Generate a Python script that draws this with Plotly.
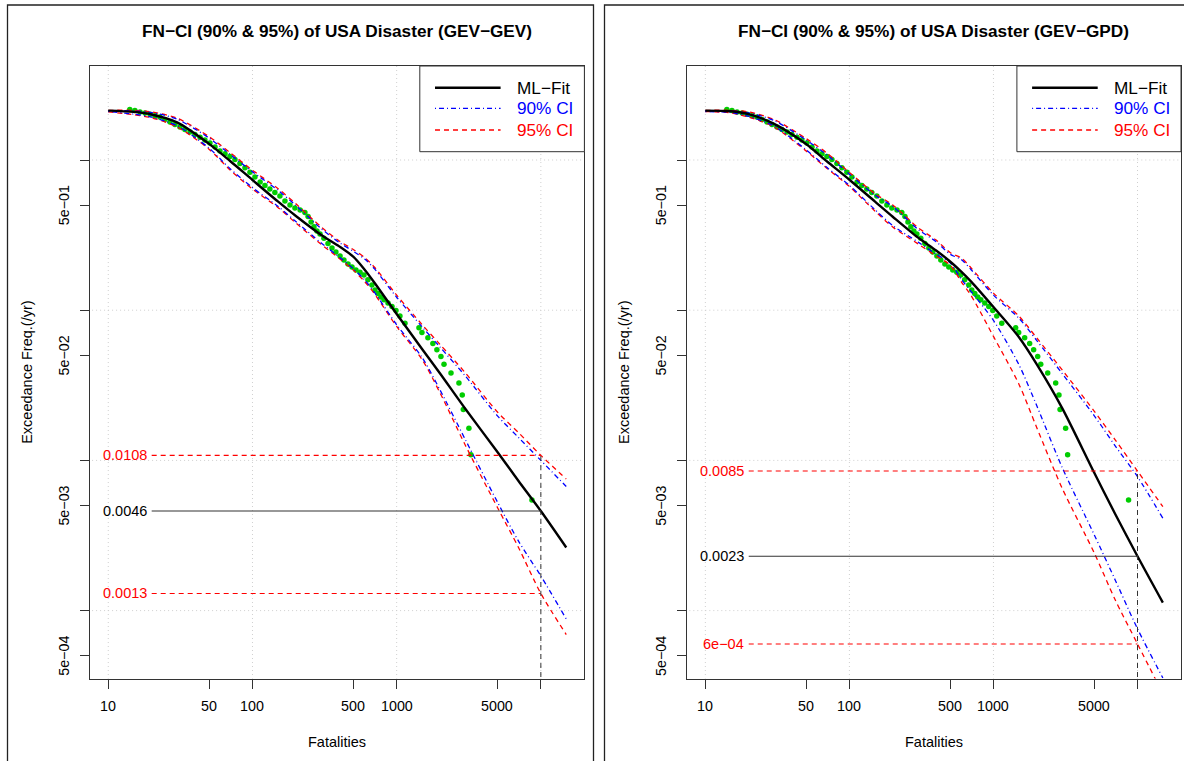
import numpy as np
import plotly.graph_objects as go

W, H = 1184, 761

# ---------------- data ----------------
fit_x = [10, 15, 20, 30, 50, 70, 100, 150, 200, 300, 400, 500, 600, 700,
         1000, 1500, 2000, 3000, 5000, 7000, 10000, 15000]

# GEV-GEV panel
gev_ml = [2.13, 2.09, 2.01, 1.78, 1.28, 0.985, 0.736, 0.530, 0.424, 0.317, 0.266, 0.227, 0.186, 0.153,
          0.0944, 0.0552, 0.0379, 0.0220, 0.01138, 0.00729, 0.0046, 0.00263]
gev_u95 = [2.14, 2.14, 2.09, 1.90, 1.43, 1.12, 0.855, 0.646, 0.511, 0.358, 0.289, 0.2535, 0.224, 0.194,
           0.126, 0.0803, 0.0591, 0.0382, 0.0210, 0.0153, 0.0108, 0.00752]
gev_u90 = [2.13, 2.12, 2.07, 1.87, 1.40, 1.09, 0.835, 0.630, 0.498, 0.349, 0.282, 0.247, 0.219, 0.189,
           0.122, 0.0775, 0.0568, 0.0364, 0.0198, 0.0142, 0.0100, 0.0067]
gev_l95 = [2.09, 2.00, 1.91, 1.66, 1.18, 0.858, 0.641, 0.483, 0.381, 0.274, 0.221, 0.185, 0.155, 0.129,
           0.0779, 0.0470, 0.0281, 0.01257, 0.00486, 0.00263, 0.0013, 0.000693]
gev_l90 = [2.10, 2.02, 1.93, 1.69, 1.20, 0.875, 0.655, 0.492, 0.389, 0.280, 0.226, 0.189, 0.159, 0.132,
           0.0800, 0.0485, 0.0294, 0.0137, 0.00528, 0.0029, 0.0017, 0.00088]

# GEV-GPD panel
gpd_ml = [2.13, 2.11, 2.02, 1.74, 1.278, 0.977, 0.739, 0.530, 0.419, 0.304, 0.250, 0.211, 0.180, 0.155,
          0.105, 0.0663, 0.0436, 0.0223, 0.00830, 0.00440, 0.0023, 0.00113]
gpd_u95 = [2.14, 2.14, 2.09, 1.86, 1.39, 1.11, 0.826, 0.598, 0.502, 0.354, 0.293, 0.242, 0.222, 0.191,
           0.130, 0.0915, 0.0653, 0.0400, 0.0213, 0.0137, 0.0085, 0.00492]
gpd_u90 = [2.13, 2.12, 2.06, 1.83, 1.36, 1.08, 0.805, 0.585, 0.490, 0.345, 0.286, 0.236, 0.217, 0.186,
           0.126, 0.0885, 0.0628, 0.0379, 0.0199, 0.0125, 0.00779, 0.00412]
gpd_l95 = [2.10, 2.06, 1.93, 1.66, 1.15, 0.878, 0.667, 0.458, 0.358, 0.276, 0.230, 0.200, 0.154, 0.125,
           0.0669, 0.0323, 0.0165, 0.00652, 0.00243, 0.00118, 0.0006, 0.00028]
gpd_l90 = [2.10, 2.07, 1.95, 1.68, 1.17, 0.890, 0.678, 0.468, 0.366, 0.284, 0.236, 0.207, 0.160, 0.133,
           0.0855, 0.0435, 0.0231, 0.00897, 0.00321, 0.0016, 0.000757, 0.000356]

# empirical exceedance frequencies (green points)
emp_x = [14.1, 15.3, 16.6, 18.0, 19.5, 21.1, 22.8, 24.7, 26.8, 29.0, 31.4, 34.0, 36.9, 39.9, 43.3,
         46.8, 50.7, 55.0, 59.5, 64.5, 69.8, 75.6, 81.9, 88.7, 96.1, 104, 113, 122, 132, 143,
         155, 168, 182, 197, 214, 231, 243, 255, 267, 280, 294, 313, 334, 356, 379, 405, 431,
         460, 490, 522, 557, 593, 632, 674, 707, 742, 778, 817, 871, 928, 989, 1054,
         1142, 1428, 1497, 1647, 1783, 1901, 2028, 2130, 2381, 2704, 2850, 2900, 3170, 3273, 8670]
emp_y = [2.169, 2.136, 2.087, 2.055, 2.015, 1.972, 1.933, 1.861, 1.791, 1.723, 1.659, 1.596, 1.536,
         1.478, 1.416, 1.357, 1.298, 1.221, 1.148, 1.101, 1.057, 1.006, 0.946, 0.887, 0.828, 0.770,
         0.714, 0.676, 0.641, 0.608, 0.576, 0.533, 0.502, 0.479, 0.465, 0.447, 0.420, 0.387, 0.359,
         0.337, 0.322, 0.301, 0.278, 0.2595, 0.244, 0.2295, 0.216, 0.203, 0.194, 0.185, 0.179,
         0.1715, 0.1596, 0.1472, 0.1363, 0.1292, 0.1224, 0.1176, 0.1117, 0.1060, 0.0997, 0.0915,
         0.0819, 0.0764, 0.0710, 0.0655, 0.0601, 0.0546, 0.0491, 0.0437, 0.0382, 0.0328, 0.0273,
         0.0218, 0.0164, 0.0109, 0.00546]

ref_x = [20, 10000]          # horizontal reference segments
ret_x = 10000                # return level position

panels = [
    dict(title="FN−CI (90% & 95%) of USA Disaster (GEV−GEV)",
         ml=gev_ml, u95=gev_u95, u90=gev_u90, l95=gev_l95, l90=gev_l90,
         ref_vals=[0.0108, 0.0046, 0.0013], ref_text=["0.0108", "0.0046", "0.0013"]),
    dict(title="FN−CI (90% & 95%) of USA Disaster (GEV−GPD)",
         ml=gpd_ml, u95=gpd_u95, u90=gpd_u90, l95=gpd_l95, l90=gpd_l90,
         ref_vals=[0.0085, 0.0023, 0.0006], ref_text=["0.0085", "0.0023", "6e−04"]),
]

x_ticks = [10, 50, 100, 500, 1000, 5000, 10000]
x_tick_text = ["10", "50", "100", "500", "1000", "5000", ""]
y_ticks = [1, 0.5, 0.1, 0.05, 0.01, 0.005, 0.001, 0.0005]
y_tick_text = ["", "5e−01", "", "5e−02", "", "5e−03", "", "5e−04"]
grid_x = [10, 100, 1000, 10000]
grid_y = [1, 0.1, 0.01, 0.001]

legend_names = ["ML−Fit", "90% CI", "95% CI"]

# ---------------- styling / layout ----------------
FONT = "Liberation Sans, Arial, Helvetica, sans-serif"
GREEN = "#00CD00"
RED = "#FF0000"
BLUE = "#0000FF"
DASH95 = "5px,4px"
DASH90 = "1px,3px,5px,3px"
XR = [0.8705, 4.302]
YR = [-3.452, 0.6258]

boxes = [(89.6, 66, 584.4, 678.5), (686.7, 66, 1181.0, 678.5)]
frames = [(7.5, 5, 593.5, 800), (604.5, 5, 1190.5, 800)]

fig = go.Figure()
annotations = []
shapes = []

for i, (p, box) in enumerate(zip(panels, boxes)):
    xa = "x" if i == 0 else "x2"
    ya = "y" if i == 0 else "y2"
    L, T, R, B = box

    def add(x, y, **kw):
        fig.add_trace(go.Scatter(x=x, y=y, xaxis=xa, yaxis=ya, showlegend=False,
                                 hoverinfo="skip", **kw))

    # grid
    for gx in grid_x:
        add([gx, gx], [1e-5, 100], mode="lines",
            line=dict(color="#cfcfcf", width=1, dash="1px,3px"))
    for gy in grid_y:
        add([1, 1e6], [gy, gy], mode="lines",
            line=dict(color="#cfcfcf", width=1, dash="1px,3px"))

    # empirical points
    add(emp_x, emp_y, mode="markers",
        marker=dict(color=GREEN, size=5.5, line=dict(width=0)))

    # CI curves
    for key, col, dash in [("u95", RED, DASH95), ("l95", RED, DASH95),
                           ("u90", BLUE, DASH90), ("l90", BLUE, DASH90)]:
        add(fit_x, p[key], mode="lines",
            line=dict(color=col, width=1.3, dash=dash, shape="spline", smoothing=0.8))
    # ML fit
    add(fit_x, p["ml"], mode="lines",
        line=dict(color="black", width=2.4, shape="spline", smoothing=0.8))

    # reference lines
    hi, mid, lo = p["ref_vals"]
    add(ref_x, [hi, hi], mode="lines", line=dict(color=RED, width=1.1, dash=DASH95))
    add(ref_x, [lo, lo], mode="lines", line=dict(color=RED, width=1.1, dash=DASH95))
    add(ref_x, [mid, mid], mode="lines", line=dict(color="#333333", width=1.1))
    add([ret_x, ret_x], [1e-5, hi], mode="lines",
        line=dict(color="#333333", width=1, dash=DASH95))

    for v, t, c in zip(p["ref_vals"], p["ref_text"], [RED, "black", RED]):
        annotations.append(dict(xref=xa, yref=ya, x=np.log10(ref_x[0]), y=np.log10(v),
                                text=t, showarrow=False, xanchor="right", yanchor="middle",
                                xshift=-3, font=dict(family=FONT, size=14.5, color=c)))

    # tick labels
    for v, t in zip(x_ticks, x_tick_text):
        if t:
            annotations.append(dict(xref=xa, yref=ya + " domain", x=np.log10(v), y=0,
                                    yshift=-27.5, text=t, showarrow=False,
                                    xanchor="center", yanchor="middle",
                                    font=dict(family=FONT, size=14.3, color="black")))
    for v, t in zip(y_ticks, y_tick_text):
        if t:
            annotations.append(dict(xref=xa + " domain", yref=ya, x=0, y=np.log10(v),
                                    xshift=-25.6, text=t, showarrow=False, textangle=-90,
                                    xanchor="center", yanchor="middle",
                                    font=dict(family=FONT, size=14.3, color="black")))

    cx = (L + R) / 2
    # title and axis titles
    annotations.append(dict(xref="paper", yref="paper", x=cx / W, y=1 - 31 / H,
                            text="<b>" + p["title"] + "</b>", showarrow=False,
                            xanchor="center", yanchor="middle",
                            font=dict(family=FONT, size=17.2, color="black")))
    annotations.append(dict(xref="paper", yref="paper", x=cx / W, y=1 - 742 / H,
                            text="Fatalities", showarrow=False,
                            xanchor="center", yanchor="middle",
                            font=dict(family=FONT, size=14.5, color="black")))
    annotations.append(dict(xref="paper", yref="paper", x=(L - 62) / W,
                            y=1 - ((T + B) / 2) / H, text="Exceedance Freq.(/yr)",
                            showarrow=False, textangle=-90,
                            xanchor="center", yanchor="middle",
                            font=dict(family=FONT, size=14.5, color="black")))

    # legend box
    shapes.append(dict(type="rect", xref="paper", yref="paper",
                       x0=(L + 330.2) / W, x1=R / W, y0=1 - 151.7 / H, y1=1 - T / H,
                       line=dict(color="#333333", width=1), fillcolor="white", layer="above"))
    rows = [87.7, 108.3, 130.0]
    styles = [dict(color="black", width=2.4),
              dict(color=BLUE, width=1.3, dash=DASH90),
              dict(color=RED, width=1.3, dash=DASH95)]
    tcols = ["black", BLUE, RED]
    for ry, st, name, tc in zip(rows, styles, legend_names, tcols):
        shapes.append(dict(type="line", xref="paper", yref="paper",
                           x0=(L + 345.4) / W, x1=(L + 411.0) / W,
                           y0=1 - ry / H, y1=1 - ry / H, line=st, layer="above"))
        annotations.append(dict(xref="paper", yref="paper", x=(L + 425.5) / W, y=1 - ry / H,
                                text=name, showarrow=False, xanchor="left", yanchor="middle",
                                font=dict(family=FONT, size=17.2, color=tc)))

    # outer frame
    fx0, fy0, fx1, fy1 = frames[i]
    shapes.append(dict(type="rect", xref="paper", yref="paper",
                       x0=fx0 / W, x1=fx1 / W, y0=1 - fy1 / H, y1=1 - fy0 / H,
                       line=dict(color="#222222", width=1.3), fillcolor="rgba(0,0,0,0)"))


def xaxis_cfg(box, anchor):
    L, T, R, B = box
    return dict(type="log", range=XR, domain=[L / W, R / W], anchor=anchor,
                tickmode="array", tickvals=x_ticks, showticklabels=False,
                ticks="outside", ticklen=9, tickwidth=1, tickcolor="#333333",
                showline=True, mirror=True, linecolor="#333333", linewidth=1,
                showgrid=False, zeroline=False, fixedrange=True)


def yaxis_cfg(box, anchor):
    L, T, R, B = box
    return dict(type="log", range=YR, domain=[1 - B / H, 1 - T / H], anchor=anchor,
                tickmode="array", tickvals=y_ticks, showticklabels=False,
                ticks="outside", ticklen=9, tickwidth=1, tickcolor="#333333",
                showline=True, mirror=True, linecolor="#333333", linewidth=1,
                showgrid=False, zeroline=False, fixedrange=True)


fig.update_layout(
    width=W, height=H,
    margin=dict(l=0, r=0, t=0, b=0),
    paper_bgcolor="white", plot_bgcolor="white",
    showlegend=False,
    xaxis=xaxis_cfg(boxes[0], "y"), yaxis=yaxis_cfg(boxes[0], "x"),
    xaxis2=xaxis_cfg(boxes[1], "y2"), yaxis2=yaxis_cfg(boxes[1], "x2"),
    annotations=annotations, shapes=shapes,
    font=dict(family=FONT),
)

fig.write_html("out.html")
